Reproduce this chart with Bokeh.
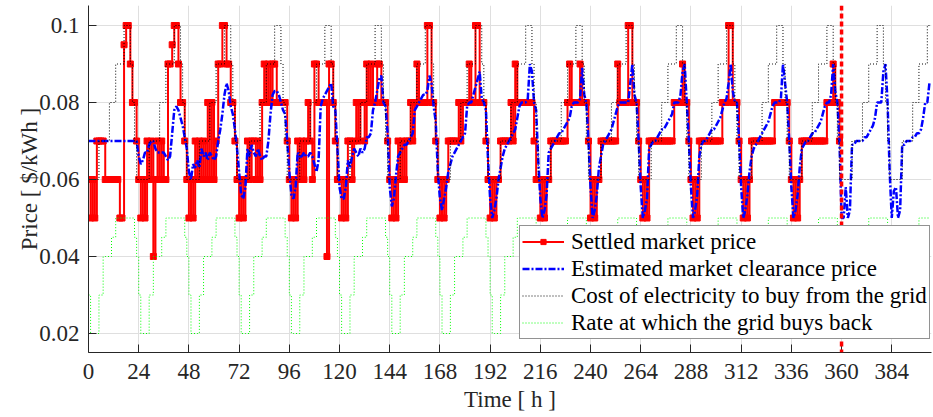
import numpy as np
from bokeh.plotting import figure
from bokeh.models import Legend, LegendItem, FixedTicker, Span, Range1d
from bokeh.embed import file_html
from bokeh.resources import INLINE

FONT = "Liberation Serif"

# ---------------- data ----------------
x_ticks = [0, 24, 48, 72, 96, 120, 144, 168, 192, 216, 240, 264, 288, 312, 336, 360, 384]
y_ticks = [0.02, 0.04, 0.06, 0.08, 0.1]
y_tick_labels = ["0.02", "0.04", "0.06", "0.08", "0.1"]

# daily time-of-use tariffs, one value per hour of the day ($/kWh)
grid_buy_tariff_day = [0.06, 0.06, 0.06, 0.06, 0.06, 0.07, 0.07, 0.07, 0.07, 0.07,
                       0.08, 0.08, 0.08, 0.09, 0.09, 0.09, 0.09, 0.10, 0.10, 0.10,
                       0.09, 0.08, 0.07, 0.06]
grid_sell_tariff_day = [0.03, 0.02, 0.02, 0.02, 0.02, 0.03, 0.03, 0.04, 0.04, 0.04,
                        0.04, 0.045, 0.045, 0.05, 0.05, 0.05, 0.05, 0.05, 0.05, 0.05,
                        0.05, 0.05, 0.045, 0.04]
n_tariff_hours = 403

# settled market price, hourly, h = 0 .. 359
settled_price = [
    0.06, 0.05, 0.06, 0.05, 0.07, 0.07, 0.07, 0.07, 0.06, 0.06, 0.06, 0.06, 0.06, 0.06, 0.06, 0.05, 0.05, 0.095, 0.1, 0.1, 0.09, 0.08, 0.08, 0.07,
    0.06, 0.05, 0.06, 0.05, 0.07, 0.06, 0.07, 0.04, 0.06, 0.07, 0.06, 0.07, 0.06, 0.06, 0.09, 0.09, 0.095, 0.1, 0.1, 0.09, 0.08, 0.08, 0.07, 0.06,
    0.05, 0.06, 0.05, 0.07, 0.06, 0.07, 0.06, 0.07, 0.06, 0.08, 0.06, 0.08, 0.06, 0.07, 0.09, 0.09, 0.1, 0.1, 0.09, 0.09, 0.08, 0.08, 0.07, 0.06,
    0.05, 0.06, 0.05, 0.06, 0.07, 0.06, 0.07, 0.07, 0.06, 0.07, 0.06, 0.08, 0.09, 0.08, 0.09, 0.08, 0.09, 0.09, 0.08, 0.08, 0.08, 0.08, 0.08, 0.07,
    0.06, 0.05, 0.06, 0.05, 0.07, 0.06, 0.07, 0.06, 0.07, 0.08, 0.07, 0.06, 0.09, 0.09, 0.08, 0.08, 0.08, 0.08, 0.04, 0.09, 0.09, 0.08, 0.07, 0.06,
    0.06, 0.05, 0.06, 0.05, 0.07, 0.07, 0.06, 0.07, 0.08, 0.07, 0.08, 0.08, 0.07, 0.09, 0.08, 0.09, 0.08, 0.08, 0.09, 0.09, 0.08, 0.08, 0.08, 0.07,
    0.06, 0.05, 0.06, 0.05, 0.07, 0.06, 0.07, 0.06, 0.07, 0.07, 0.08, 0.07, 0.08, 0.09, 0.08, 0.08, 0.08, 0.08, 0.1, 0.1, 0.08, 0.08, 0.07, 0.06,
    0.05, 0.06, 0.05, 0.06, 0.07, 0.07, 0.07, 0.07, 0.07, 0.08, 0.07, 0.08, 0.08, 0.08, 0.09, 0.08, 0.08, 0.1, 0.1, 0.08, 0.08, 0.08, 0.07, 0.06,
    0.05, 0.06, 0.05, 0.06, 0.06, 0.07, 0.07, 0.07, 0.07, 0.07, 0.08, 0.07, 0.09, 0.08, 0.08, 0.08, 0.08, 0.08, 0.08, 0.08, 0.08, 0.07, 0.06, 0.06,
    0.05, 0.06, 0.05, 0.06, 0.06, 0.07, 0.07, 0.07, 0.07, 0.07, 0.07, 0.07, 0.07, 0.08, 0.09, 0.08, 0.08, 0.08, 0.08, 0.09, 0.08, 0.08, 0.08, 0.07,
    0.05, 0.06, 0.05, 0.06, 0.06, 0.07, 0.07, 0.07, 0.07, 0.07, 0.07, 0.07, 0.07, 0.09, 0.08, 0.08, 0.08, 0.08, 0.1, 0.1, 0.08, 0.08, 0.08, 0.07,
    0.06, 0.05, 0.06, 0.05, 0.07, 0.07, 0.07, 0.07, 0.07, 0.07, 0.07, 0.07, 0.07, 0.07, 0.07, 0.07, 0.08, 0.08, 0.08, 0.08, 0.09, 0.08, 0.08, 0.07,
    0.06, 0.05, 0.06, 0.05, 0.07, 0.07, 0.07, 0.07, 0.07, 0.07, 0.07, 0.07, 0.07, 0.07, 0.07, 0.08, 0.08, 0.08, 0.1, 0.1, 0.08, 0.08, 0.08, 0.07,
    0.06, 0.05, 0.06, 0.05, 0.06, 0.07, 0.07, 0.07, 0.07, 0.07, 0.07, 0.07, 0.07, 0.07, 0.07, 0.07, 0.08, 0.08, 0.08, 0.08, 0.08, 0.08, 0.08, 0.07,
    0.06, 0.05, 0.06, 0.05, 0.06, 0.07, 0.07, 0.07, 0.07, 0.07, 0.07, 0.07, 0.07, 0.07, 0.07, 0.07, 0.07, 0.08, 0.08, 0.08, 0.09, 0.08, 0.08, 0.07,
]

# estimated market clearance price, hourly, h = 0 .. 402
estimated_price = [
    0.07, 0.07, 0.07, 0.07, 0.07, 0.07, 0.07, 0.07, 0.07, 0.07, 0.07, 0.07, 0.07, 0.07, 0.07, 0.07, 0.07, 0.07, 0.07, 0.07, 0.07, 0.07, 0.07, 0.07,
    0.066, 0.064, 0.065, 0.067, 0.067, 0.069, 0.07, 0.07, 0.068, 0.067, 0.067, 0.067, 0.067, 0.066, 0.065, 0.066, 0.072, 0.078, 0.079, 0.078, 0.076, 0.074, 0.071, 0.068,
    0.062, 0.06, 0.064, 0.063, 0.065, 0.063, 0.068, 0.066, 0.067, 0.065, 0.067, 0.066, 0.065, 0.066, 0.07, 0.073, 0.077, 0.082, 0.085, 0.083, 0.079, 0.077, 0.073, 0.068,
    0.062, 0.056, 0.055, 0.058, 0.068, 0.066, 0.069, 0.067, 0.066, 0.068, 0.066, 0.065, 0.066, 0.066, 0.07, 0.077, 0.082, 0.083, 0.083, 0.082, 0.08, 0.078, 0.077, 0.07,
    0.062, 0.056, 0.055, 0.058, 0.067, 0.066, 0.066, 0.067, 0.066, 0.066, 0.067, 0.066, 0.064, 0.062, 0.065, 0.079, 0.081, 0.082, 0.083, 0.084, 0.085, 0.079, 0.078, 0.068,
    0.058, 0.055, 0.055, 0.058, 0.065, 0.063, 0.066, 0.068, 0.067, 0.066, 0.068, 0.067, 0.068, 0.071, 0.071, 0.072, 0.078, 0.08, 0.083, 0.086, 0.087, 0.08, 0.079, 0.072,
    0.058, 0.053, 0.055, 0.061, 0.066, 0.067, 0.068, 0.069, 0.069, 0.07, 0.071, 0.072, 0.078, 0.079, 0.08, 0.081, 0.082, 0.082, 0.083, 0.087, 0.085, 0.079, 0.075, 0.062,
    0.055, 0.052, 0.055, 0.058, 0.062, 0.064, 0.066, 0.067, 0.068, 0.069, 0.07, 0.071, 0.072, 0.079, 0.08, 0.08, 0.082, 0.084, 0.086, 0.088, 0.081, 0.08, 0.078, 0.065,
    0.055, 0.05, 0.052, 0.055, 0.06, 0.063, 0.066, 0.068, 0.069, 0.07, 0.071, 0.072, 0.073, 0.076, 0.079, 0.08, 0.08, 0.08, 0.081, 0.09, 0.088, 0.08, 0.078, 0.065,
    0.055, 0.05, 0.052, 0.056, 0.067, 0.068, 0.069, 0.07, 0.071, 0.072, 0.072, 0.073, 0.074, 0.075, 0.076, 0.079, 0.08, 0.08, 0.08, 0.081, 0.089, 0.082, 0.08, 0.07,
    0.058, 0.05, 0.052, 0.056, 0.063, 0.066, 0.069, 0.07, 0.071, 0.072, 0.073, 0.075, 0.077, 0.079, 0.08, 0.08, 0.08, 0.08, 0.08, 0.085, 0.09, 0.082, 0.08, 0.07,
    0.058, 0.05, 0.052, 0.055, 0.068, 0.069, 0.07, 0.07, 0.071, 0.072, 0.073, 0.073, 0.074, 0.075, 0.076, 0.077, 0.08, 0.08, 0.08, 0.082, 0.088, 0.09, 0.08, 0.07,
    0.058, 0.05, 0.052, 0.056, 0.066, 0.069, 0.07, 0.07, 0.071, 0.072, 0.073, 0.073, 0.074, 0.075, 0.076, 0.078, 0.08, 0.081, 0.085, 0.09, 0.083, 0.08, 0.08, 0.07,
    0.058, 0.05, 0.052, 0.056, 0.062, 0.066, 0.068, 0.069, 0.07, 0.071, 0.072, 0.073, 0.074, 0.075, 0.077, 0.079, 0.08, 0.08, 0.08, 0.081, 0.09, 0.085, 0.08, 0.07,
    0.058, 0.05, 0.052, 0.056, 0.063, 0.068, 0.069, 0.07, 0.07, 0.071, 0.072, 0.072, 0.073, 0.074, 0.075, 0.077, 0.079, 0.08, 0.08, 0.082, 0.09, 0.083, 0.08, 0.07,
    0.05, 0.05, 0.058, 0.05, 0.052, 0.069, 0.069, 0.07, 0.07, 0.07, 0.07, 0.071, 0.071, 0.072, 0.073, 0.074, 0.076, 0.08, 0.08, 0.08, 0.088, 0.09, 0.08, 0.062,
    0.05, 0.057, 0.058, 0.05, 0.052, 0.069, 0.069, 0.07, 0.07, 0.07, 0.071, 0.071, 0.072, 0.072, 0.073, 0.076, 0.08, 0.08, 0.085,
]

market_end_hour = 360

# ---------------- derived series ----------------
h_settled = np.arange(len(settled_price))
h_est = np.arange(len(estimated_price))
n_days = int(np.ceil(n_tariff_hours / 24))
grid_buy = np.array(grid_buy_tariff_day * n_days)[:n_tariff_hours]
grid_sell = np.array(grid_sell_tariff_day * n_days)[:n_tariff_hours]
h_tariff = np.arange(n_tariff_hours)

# ---------------- figure ----------------
p = figure(width=933, height=417,
           x_range=Range1d(0, 403), y_range=Range1d(0.015065, 0.105195),
           output_backend="svg", toolbar_location=None,
           min_border_left=88, min_border_right=2, min_border_top=5, min_border_bottom=65)
p.outline_line_color = None
p.background_fill_color = "white"

r_red = p.step(h_settled, settled_price, mode="after", line_color="#ff0000", line_width=2)
r_red_m = p.scatter(h_settled, settled_price, marker="square", size=6,
                    fill_color="#ff0000", line_color="#ff0000")
r_blue = p.line(h_est, estimated_price, line_color="#0000ff", line_width=2.5, line_dash="7 2 2 2")
r_black = p.step(h_tariff, grid_buy, mode="after", line_color="#000000", line_width=1, line_dash="1 2")
r_green = p.step(h_tariff, grid_sell, mode="after", line_color="#00ff00", line_width=1, line_dash="1 2")

vline = Span(location=market_end_hour, dimension="height", line_color="#ff0000",
             line_width=3.5, line_dash="5 3")
p.add_layout(vline)

# axes
for ax in (p.xaxis[0], p.yaxis[0]):
    ax.axis_line_color = "#262626"
    ax.major_tick_line_color = "#262626"
    ax.major_tick_in = 8
    ax.major_tick_out = 0
    ax.minor_tick_in = 0
    ax.minor_tick_out = 0
    ax.major_label_text_font = FONT
    ax.major_label_text_font_size = "23px"
    ax.major_label_text_color = "#262626"
    ax.axis_label_text_font = FONT
    ax.axis_label_text_font_size = "23px"
    ax.axis_label_text_font_style = "normal"
    ax.axis_label_text_color = "#262626"

p.xaxis.ticker = FixedTicker(ticks=x_ticks)
p.yaxis.ticker = FixedTicker(ticks=y_ticks)
p.yaxis.major_label_overrides = {v: s for v, s in zip(y_ticks, y_tick_labels)}
p.xaxis.axis_label = "Time [ h ]"
p.yaxis.axis_label = "Price [ $/kWh ]"
p.xaxis.major_label_standoff = 11
p.yaxis.major_label_standoff = 9
p.xaxis.axis_label_standoff = 5
p.yaxis.axis_label_standoff = -6

p.grid.grid_line_color = "#dfdfdf"
p.grid.grid_line_width = 1

legend = Legend(items=[
    LegendItem(label="Settled market price", renderers=[r_red, r_red_m]),
    LegendItem(label="Estimated market clearance price", renderers=[r_blue]),
    LegendItem(label="Cost of electricity to buy from the grid", renderers=[r_black]),
    LegendItem(label="Rate at which the grid buys back", renderers=[r_green]),
], location=(431, 13))
legend.label_text_font = FONT
legend.label_text_font_size = "23px"
legend.label_text_line_height = 1.0
legend.label_text_color = "#000000"
legend.glyph_width = 42
legend.glyph_height = 13
legend.label_height = 27
legend.label_standoff = 7
legend.spacing = 0
legend.padding = 2
legend.border_line_color = "#262626"
legend.border_line_width = 1
legend.background_fill_color = "white"
legend.background_fill_alpha = 1
p.add_layout(legend)

open("out.html", "w").write(file_html(p, INLINE))
